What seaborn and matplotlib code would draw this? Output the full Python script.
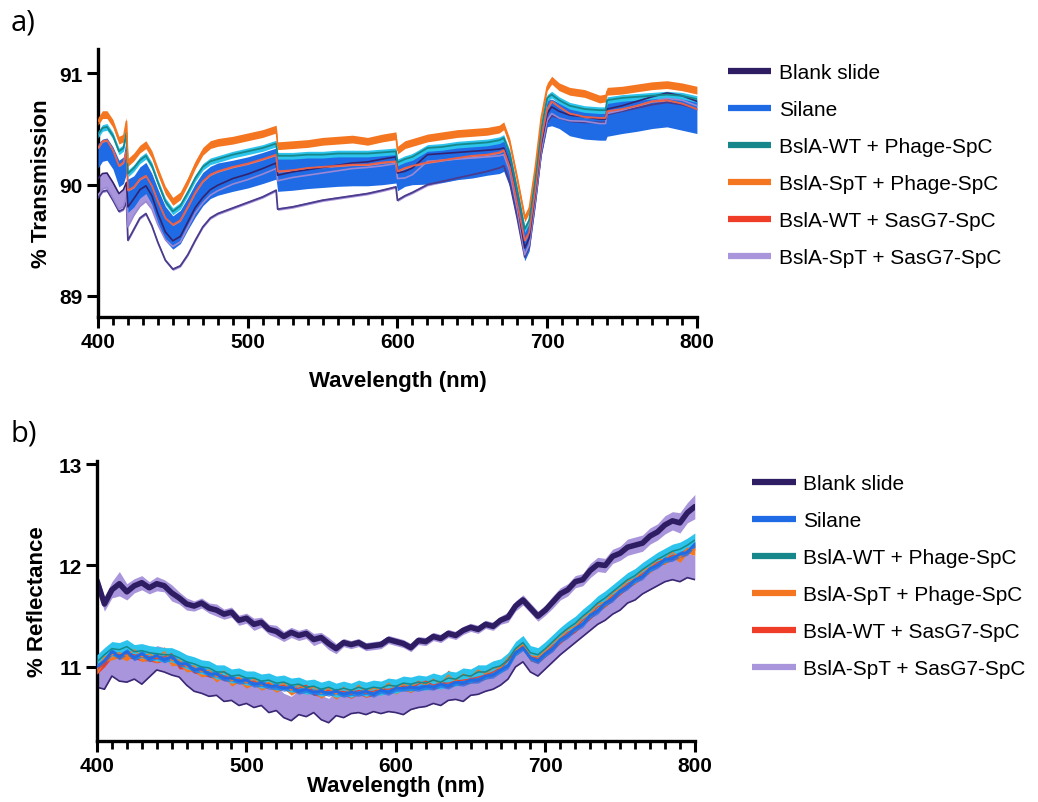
import numpy as np
import matplotlib
matplotlib.use("Agg")
import matplotlib.pyplot as plt
from matplotlib.lines import Line2D
from matplotlib.ticker import MultipleLocator
import seaborn as sns

sns.set_theme(style="ticks")
plt.rcParams["font.family"] = ["Liberation Sans", "DejaVu Sans"]
plt.rcParams["text.color"] = "black"
plt.rcParams["axes.labelcolor"] = "black"
plt.rcParams["xtick.color"] = "black"
plt.rcParams["ytick.color"] = "black"

# ---------------- series names and colours ----------------
names = ["Blank slide", "Silane", "BslA-WT + Phage-SpC", "BslA-SpT + Phage-SpC",
         "BslA-WT + SasG7-SpC", "BslA-SpT + SasG7-SpC"]
c_blank = "#2e1d63"
c_silane = "#1f6be6"
c_teal = "#16888b"
c_cyan = "#2cc3ec"
c_orange = "#f47620"
c_red = "#f03d28"
c_lav = "#a995dc"
line_colors = [c_blank, c_silane, c_teal, c_orange, c_red, c_lav]

# ---------------- a) transmission (mean and SD, %) ----------------
wl_a = [400, 403, 406, 410, 414, 417, 419, 420, 424, 428, 432, 436, 440, 445, 450, 455,
        460, 465, 470, 475, 480, 490, 500, 510, 519, 520, 530, 540, 550, 560, 570, 580,
        590, 599, 600, 605, 610, 620, 630, 640, 650, 660, 668, 671, 675, 680, 685, 688,
        692, 696, 700, 703, 708, 715, 725, 735, 739, 740, 750, 760, 770, 780, 790, 800]

t_orange = [90.57, 90.63, 90.63, 90.55, 90.40, 90.42, 90.57, 90.20, 90.25, 90.32, 90.36, 90.27,
            90.12, 89.95, 89.85, 89.90, 90.03, 90.18, 90.30, 90.36, 90.38, 90.40, 90.43, 90.46,
            90.50, 90.35, 90.36, 90.37, 90.39, 90.40, 90.41, 90.39, 90.42, 90.44, 90.31, 90.36,
            90.38, 90.42, 90.44, 90.46, 90.47, 90.48, 90.50, 90.53, 90.38, 90.05, 89.70, 89.78,
            90.15, 90.60, 90.88, 90.94, 90.88, 90.84, 90.82, 90.77, 90.78, 90.84, 90.85, 90.87,
            90.89, 90.90, 90.88, 90.85]
t_orange_sd = 0.035

t_teal = [90.45, 90.51, 90.52, 90.44, 90.30, 90.33, 90.47, 90.10, 90.15, 90.22, 90.26, 90.17,
          90.02, 89.85, 89.76, 89.81, 89.93, 90.06, 90.16, 90.21, 90.23, 90.27, 90.30, 90.33,
          90.37, 90.26, 90.26, 90.27, 90.27, 90.28, 90.28, 90.28, 90.29, 90.30, 90.20, 90.23,
          90.25, 90.33, 90.34, 90.36, 90.37, 90.38, 90.40, 90.42, 90.28, 89.95, 89.60, 89.68,
          90.05, 90.50, 90.78, 90.81, 90.76, 90.71, 90.68, 90.67, 90.67, 90.76, 90.78, 90.79,
          90.80, 90.81, 90.80, 90.77]
t_teal_sd = 0.03

t_silane = [90.26, 90.31, 90.32, 90.24, 90.10, 90.13, 90.26, 89.90, 89.94, 90.02, 90.06, 89.96,
            89.81, 89.65, 89.57, 89.62, 89.74, 89.86, 89.96, 90.02, 90.05, 90.08, 90.11, 90.15,
            90.19, 90.09, 90.10, 90.11, 90.12, 90.13, 90.13, 90.13, 90.14, 90.15, 90.07, 90.11,
            90.14, 90.17, 90.18, 90.20, 90.21, 90.23, 90.24, 90.26, 90.12, 89.80, 89.46, 89.54,
            89.92, 90.37, 90.64, 90.65, 90.62, 90.57, 90.54, 90.53, 90.53, 90.59, 90.61, 90.63,
            90.65, 90.66, 90.64, 90.61]
t_silane_sd = [0.11, 0.10, 0.10, 0.10, 0.12, 0.12, 0.16, 0.15, 0.14, 0.14, 0.14, 0.14,
               0.15, 0.155, 0.15, 0.15, 0.145, 0.15, 0.15, 0.145, 0.145, 0.14, 0.14, 0.14,
               0.14, 0.15, 0.15, 0.145, 0.145, 0.145, 0.14, 0.14, 0.14, 0.135, 0.125, 0.125,
               0.14, 0.165, 0.16, 0.155, 0.15, 0.145, 0.14, 0.14, 0.14, 0.135, 0.145, 0.135,
               0.12, 0.115, 0.12, 0.12, 0.115, 0.13, 0.13, 0.13, 0.13, 0.155, 0.15, 0.15,
               0.145, 0.14, 0.15, 0.15]

t_red = [90.33, 90.39, 90.40, 90.31, 90.17, 90.20, 90.30, 89.95, 89.98, 90.05, 90.08, 89.99,
         89.85, 89.70, 89.64, 89.68, 89.80, 89.93, 90.03, 90.09, 90.12, 90.16, 90.19, 90.23,
         90.27, 90.12, 90.13, 90.15, 90.16, 90.17, 90.18, 90.18, 90.20, 90.21, 90.12, 90.15,
         90.17, 90.20, 90.22, 90.24, 90.26, 90.27, 90.29, 90.31, 90.16, 89.83, 89.50, 89.57,
         89.95, 90.40, 90.68, 90.75, 90.70, 90.64, 90.61, 90.60, 90.60, 90.66, 90.68, 90.71,
         90.75, 90.76, 90.73, 90.68]
t_red_sd = 0.008

t_lav = [89.98, 90.03, 90.04, 89.95, 89.85, 89.88, 89.96, 89.71, 89.80, 89.88, 89.92, 89.84,
         89.69, 89.54, 89.47, 89.51, 89.64, 89.77, 89.86, 89.93, 89.97, 90.03, 90.07, 90.12,
         90.17, 90.06, 90.09, 90.11, 90.13, 90.15, 90.17, 90.18, 90.20, 90.22, 90.08, 90.09,
         90.12, 90.24, 90.25, 90.26, 90.27, 90.28, 90.29, 90.30, 90.15, 89.81, 89.40, 89.49,
         89.89, 90.33, 90.61, 90.67, 90.63, 90.60, 90.59, 90.57, 90.57, 90.66, 90.69, 90.73,
         90.77, 90.80, 90.78, 90.73]
t_lav_sd = [0.075, 0.07, 0.065, 0.07, 0.07, 0.075, 0.06, 0.09, 0.075, 0.075, 0.07, 0.06,
            0.05, 0.035, 0.025, 0.025, 0.025, 0.025, 0.025, 0.025, 0.025, 0.025, 0.025, 0.025,
            0.025, 0.025, 0.025, 0.025, 0.025, 0.025, 0.025, 0.025, 0.03, 0.03, 0.025, 0.03,
            0.03, 0.03, 0.03, 0.03, 0.03, 0.03, 0.03, 0.03, 0.03, 0.03, 0.03, 0.03,
            0.03, 0.03, 0.03, 0.03, 0.03, 0.025, 0.02, 0.02, 0.02, 0.02, 0.02, 0.02,
            0.02, 0.025, 0.02, 0.02]

t_blank = [89.88, 89.94, 89.95, 89.86, 89.76, 89.78, 89.85, 89.50, 89.60, 89.70, 89.74, 89.63,
           89.48, 89.32, 89.24, 89.27, 89.37, 89.50, 89.62, 89.70, 89.74, 89.79, 89.84, 89.89,
           89.95, 89.78, 89.80, 89.83, 89.86, 89.88, 89.90, 89.92, 89.95, 89.98, 89.86, 89.90,
           89.93, 90.00, 90.03, 90.06, 90.09, 90.12, 90.15, 90.17, 90.02, 89.70, 89.35, 89.44,
           89.84, 90.28, 90.56, 90.62, 90.60, 90.57, 90.56, 90.56, 90.56, 90.63, 90.66, 90.69,
           90.72, 90.74, 90.72, 90.68]
t_blank_sd = 0.012

# ---------------- b) reflectance (mean and SD, %) ----------------
wl_b = np.arange(400, 801, 5)

r_blank = [11.85, 11.62, 11.76, 11.82, 11.74, 11.80, 11.83, 11.78, 11.82, 11.80,
           11.73, 11.68, 11.62, 11.60, 11.63, 11.58, 11.56, 11.52, 11.54, 11.46,
           11.48, 11.42, 11.44, 11.37, 11.35, 11.30, 11.34, 11.31, 11.33, 11.27,
           11.29, 11.23, 11.18, 11.24, 11.22, 11.24, 11.20, 11.21, 11.22, 11.27,
           11.25, 11.23, 11.19, 11.26, 11.25, 11.30, 11.28, 11.33, 11.31, 11.36,
           11.39, 11.37, 11.42, 11.40, 11.46, 11.49, 11.60, 11.66, 11.58, 11.50,
           11.56, 11.64, 11.72, 11.76, 11.84, 11.86, 11.95, 12.01, 12.00, 12.09,
           12.12, 12.18, 12.20, 12.22, 12.29, 12.33, 12.40, 12.44, 12.42, 12.52,
           12.58]
r_blank_sd = [0.08, 0.07, 0.08, 0.12, 0.08, 0.07, 0.07, 0.06, 0.07, 0.06,
              0.08, 0.06, 0.06, 0.05, 0.05, 0.05, 0.06, 0.05, 0.05, 0.05,
              0.05, 0.06, 0.05, 0.05, 0.06, 0.05, 0.05, 0.05, 0.05, 0.06,
              0.05, 0.06, 0.05, 0.04, 0.04, 0.04, 0.04, 0.04, 0.04, 0.04,
              0.04, 0.04, 0.04, 0.04, 0.04, 0.04, 0.04, 0.04, 0.04, 0.04,
              0.04, 0.04, 0.04, 0.04, 0.04, 0.05, 0.05, 0.05, 0.05, 0.05,
              0.05, 0.06, 0.06, 0.06, 0.06, 0.06, 0.07, 0.07, 0.07, 0.07,
              0.07, 0.08, 0.08, 0.08, 0.08, 0.08, 0.09, 0.09, 0.10, 0.10,
              0.12]

r_silane = [11.00, 11.06, 11.15, 11.10, 11.15, 11.09, 11.13, 11.08, 11.11, 11.07,
            11.10, 11.03, 11.03, 10.97, 10.98, 10.93, 10.93, 10.89, 10.89, 10.86,
            10.87, 10.83, 10.84, 10.81, 10.81, 10.79, 10.80, 10.76, 10.78, 10.75,
            10.76, 10.74, 10.76, 10.73, 10.75, 10.74, 10.76, 10.73, 10.77, 10.75,
            10.79, 10.79, 10.80, 10.79, 10.81, 10.80, 10.83, 10.81, 10.85, 10.84,
            10.87, 10.87, 10.91, 10.92, 10.97, 11.01, 11.14, 11.19, 11.09, 11.06,
            11.13, 11.18, 11.27, 11.31, 11.38, 11.42, 11.51, 11.55, 11.63, 11.67,
            11.75, 11.79, 11.86, 11.89, 11.97, 12.00, 12.06, 12.07, 12.11, 12.13,
            12.21]
r_silane_sd = 0.03

r_teal = [11.05, 11.12, 11.18, 11.17, 11.20, 11.15, 11.16, 11.14, 11.13, 11.12,
          11.12, 11.09, 11.05, 11.03, 11.00, 10.99, 10.95, 10.95, 10.91, 10.92,
          10.89, 10.89, 10.86, 10.87, 10.84, 10.85, 10.82, 10.83, 10.80, 10.81,
          10.78, 10.80, 10.77, 10.79, 10.77, 10.80, 10.78, 10.80, 10.79, 10.82,
          10.81, 10.84, 10.83, 10.85, 10.84, 10.87, 10.85, 10.89, 10.88, 10.92,
          10.91, 10.95, 10.95, 10.99, 11.01, 11.07, 11.18, 11.24, 11.14, 11.12,
          11.18, 11.25, 11.32, 11.38, 11.43, 11.50, 11.56, 11.63, 11.68, 11.74,
          11.80, 11.86, 11.90, 11.96, 12.01, 12.06, 12.10, 12.14, 12.16, 12.20,
          12.25]
r_teal_sd = 0.07

r_orange = [10.98, 11.10, 11.12, 11.14, 11.11, 11.17, 11.10, 11.13, 11.09, 11.15,
            11.06, 11.07, 11.00, 11.01, 10.95, 10.97, 10.90, 10.96, 10.86, 10.90,
            10.84, 10.88, 10.82, 10.85, 10.80, 10.84, 10.77, 10.82, 10.78, 10.80,
            10.74, 10.79, 10.73, 10.80, 10.74, 10.82, 10.75, 10.79, 10.77, 10.84,
            10.78, 10.83, 10.80, 10.86, 10.82, 10.88, 10.83, 10.92, 10.86, 10.93,
            10.90, 10.97, 10.93, 10.99, 10.99, 11.09, 11.16, 11.22, 11.11, 11.10,
            11.16, 11.24, 11.29, 11.37, 11.40, 11.49, 11.53, 11.62, 11.64, 11.73,
            11.77, 11.85, 11.87, 11.95, 11.98, 12.06, 12.06, 12.13, 12.08, 12.17,
            12.15]
r_orange_sd = 0.05

r_red = [10.97, 11.04, 11.13, 11.12, 11.13, 11.12, 11.10, 11.10, 11.08, 11.10,
         11.13, 11.02, 11.02, 10.98, 10.96, 10.94, 10.92, 10.91, 10.88, 10.89,
         10.85, 10.86, 10.82, 10.84, 10.80, 10.82, 10.78, 10.79, 10.82, 10.76,
         10.75, 10.77, 10.74, 10.76, 10.73, 10.77, 10.74, 10.76, 10.78, 10.78,
         10.79, 10.81, 10.79, 10.83, 10.86, 10.82, 10.84, 10.84, 10.86, 10.87,
         10.88, 10.90, 10.92, 10.95, 10.99, 11.06, 11.15, 11.21, 11.10, 11.08,
         11.14, 11.21, 11.27, 11.34, 11.38, 11.46, 11.51, 11.59, 11.63, 11.70,
         11.75, 11.82, 11.86, 11.92, 11.97, 12.03, 12.06, 12.10, 12.11, 12.16,
         12.19]
r_red_sd = 0.04

r_lav = [10.92, 10.90, 11.03, 10.98, 10.97, 11.00, 10.95, 11.02, 11.09, 11.07,
         11.04, 11.02, 10.94, 10.88, 10.86, 10.83, 10.84, 10.78, 10.79, 10.74,
         10.76, 10.72, 10.74, 10.67, 10.69, 10.62, 10.59, 10.65, 10.63, 10.67,
         10.60, 10.57, 10.64, 10.62, 10.66, 10.67, 10.65, 10.68, 10.66, 10.68,
         10.67, 10.65, 10.70, 10.72, 10.73, 10.76, 10.74, 10.79, 10.80, 10.78,
         10.84, 10.85, 10.88, 10.90, 10.94, 11.00, 11.12, 11.17, 11.07, 11.03,
         11.10, 11.17, 11.24, 11.30, 11.36, 11.42, 11.48, 11.54, 11.58, 11.64,
         11.68, 11.75, 11.78, 11.84, 11.88, 11.92, 11.96, 11.98, 11.96, 12.00,
         11.98]
r_lav_sd = 0.12

x_ticks = [400, 500, 600, 700, 800]


def band(ax, x, mean, sd, color, z, alpha=1.0):
    m = np.asarray(mean, dtype=float)
    s = np.asarray(sd, dtype=float) * np.ones_like(m)
    ax.fill_between(x, m - s, m + s, color=color, lw=0, alpha=alpha, zorder=z)
    return m - s, m + s


def trace(ax, x, y, color, lw, z):
    sns.lineplot(x=np.asarray(x, dtype=float), y=np.asarray(y, dtype=float), ax=ax,
                 color=color, lw=lw, estimator=None, sort=False, legend=False, zorder=z)


def style_axis(ax, ylim, yticks, ylabel, xlab_y, ylab_x):
    ax.set_xlim(400, 800)
    ax.set_ylim(*ylim)
    ax.set_xticks(x_ticks)
    ax.xaxis.set_minor_locator(MultipleLocator(10))
    ax.set_yticks(yticks)
    sns.despine(ax=ax)
    for sp in ("left", "bottom"):
        ax.spines[sp].set_linewidth(2.4)
        ax.spines[sp].set_color("black")
    ax.tick_params(axis="both", which="major", length=8, width=2.2, color="black",
                   labelcolor="black", labelsize=15, pad=3)
    ax.tick_params(axis="x", which="minor", length=6, width=2.0, color="black")
    for lab in ax.get_xticklabels() + ax.get_yticklabels():
        lab.set_fontweight("bold")
    ax.set_xlabel("Wavelength (nm)", fontsize=16, fontweight="bold", color="black",
                  va="center")
    ax.set_ylabel(ylabel, fontsize=16, fontweight="bold", color="black", va="center")
    ax.xaxis.set_label_coords(0.5, xlab_y)
    ax.yaxis.set_label_coords(ylab_x, 0.5)
    ax.set_facecolor("white")
    ax.grid(False)


fig = plt.figure(figsize=(10.38, 8.03), dpi=100)
fig.patch.set_facecolor("white")
ax_a = fig.add_axes([0.0944, 0.604, 0.577, 0.3337])
ax_b = fig.add_axes([0.0934, 0.076, 0.576, 0.3487])

# ---- panel a ----
band(ax_a, wl_a, t_blank, t_blank_sd, c_lav, 1)
lav_lo, lav_hi = band(ax_a, wl_a, t_lav, t_lav_sd, c_lav, 2)
band(ax_a, wl_a, t_silane, t_silane_sd, c_silane, 3)
band(ax_a, wl_a, t_teal, t_teal_sd, c_cyan, 4)
band(ax_a, wl_a, t_orange, t_orange_sd, c_orange, 5)
band(ax_a, wl_a, t_red, t_red_sd, "#f2826e", 5.5)
trace(ax_a, wl_a, t_blank, "#4b3b8c", 1.3, 6)
trace(ax_a, wl_a, lav_lo, "#9a88d4", 1.2, 6.1)
trace(ax_a, wl_a, lav_hi, "#33226e", 1.2, 6.2)
trace(ax_a, wl_a, t_red, "#e9604a", 1.3, 6.3)
trace(ax_a, wl_a, t_teal, c_teal, 1.3, 6.4)
trace(ax_a, wl_a, t_orange, c_orange, 1.2, 6.5)
style_axis(ax_a, (88.81, 91.22), [89, 90, 91], "% Transmission", -0.237, -0.094)

# ---- panel b ----
lo_b, hi_b = band(ax_b, wl_b, r_lav, r_lav_sd, c_lav, 1)
trace(ax_b, wl_b, lo_b, "#3a2874", 1.2, 1.5)
band(ax_b, wl_b, r_blank, r_blank_sd, c_lav, 2)
trace(ax_b, wl_b, r_blank, c_blank, 4.0, 2.5)
band(ax_b, wl_b, r_red, r_red_sd, c_red, 3)
band(ax_b, wl_b, r_orange, r_orange_sd, c_orange, 3.2)
band(ax_b, wl_b, r_teal, r_teal_sd, c_cyan, 3.5)
band(ax_b, wl_b, r_silane, r_silane_sd, c_silane, 3.8, alpha=0.7)
trace(ax_b, wl_b, r_red, c_red, 0.9, 4)
trace(ax_b, wl_b, r_orange, c_orange, 0.9, 4.1)
trace(ax_b, wl_b, r_teal, c_teal, 1.1, 4.2)
trace(ax_b, wl_b, r_silane, c_silane, 2.0, 4.5)
style_axis(ax_b, (10.27, 13.03), [11, 12, 13], "% Reflectance", -0.158, -0.100)

# ---- legends ----
handles = [Line2D([0], [0], color=c, lw=4.5, solid_capstyle="butt") for c in line_colors]
leg_kw = dict(loc="upper left", frameon=False, fontsize=15, handlelength=2.1,
              handletextpad=0.35, labelspacing=0.86, borderpad=0, borderaxespad=0)
fig.legend(handles, names, bbox_to_anchor=(0.701, 0.920), **leg_kw)
fig.legend(handles, names, bbox_to_anchor=(0.7245, 0.408), **leg_kw)

fig.text(0.010, 0.990, "a)", fontsize=21, va="top", ha="left", family="Open Sans")
fig.text(0.010, 0.478, "b)", fontsize=21, va="top", ha="left", family="Open Sans")

fig.savefig("out.png", dpi=100, facecolor="white")
